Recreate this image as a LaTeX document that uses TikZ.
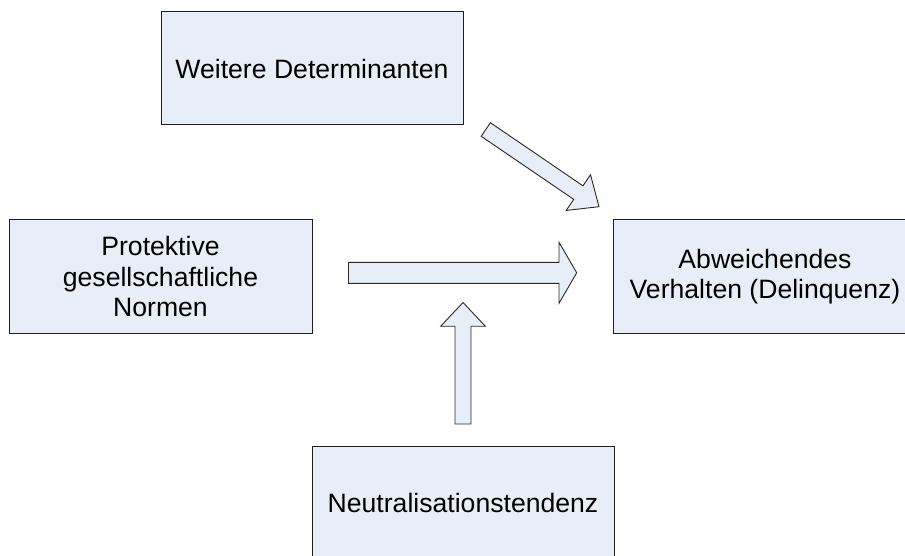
\documentclass[tikz,border=0pt]{standalone}
\usepackage{fontspec}
\setmainfont{Liberation Sans}
\usetikzlibrary{calc}

\definecolor{boxfill}{RGB}{232,238,247}
\definecolor{boxline}{RGB}{30,30,30}
\definecolor{arrowline}{RGB}{40,40,40}

% Block arrow from #1 to #2: shaft half-width #3, head half-width #4, head length #5
\newcommand\blockarrow[5]{%
  \path[blockarr] let \p1=($(#2)-(#1)$), \n2={atan2(\y1,\x1)} in
    ($(#1)+(\n2-90:#3)$)
    -- ($(#2)+(\n2+180:#5)+(\n2-90:#3)$)
    -- ($(#2)+(\n2+180:#5)+(\n2-90:#4)$)
    -- (#2)
    -- ($(#2)+(\n2+180:#5)+(\n2+90:#4)$)
    -- ($(#2)+(\n2+180:#5)+(\n2+90:#3)$)
    -- ($(#1)+(\n2+90:#3)$)
    -- cycle;}

\begin{document}
\begin{tikzpicture}[x=1pt,y=1pt,
  factor/.style={draw=boxline, line width=1pt, fill=boxfill, inner sep=0pt,
    align=center, font=\fontsize{26.6}{30.6}\selectfont},
  blockarr/.style={draw=arrowline, line width=0.9pt, fill=boxfill, line join=miter}]
  \useasboundingbox (0,0) rectangle (905,-556);
  \clip (0,0) rectangle (905,-556);

  % factors
  \node[factor, minimum width=302, minimum height=113] (weitere) at (312,-68.5)
    {Weitere Determinanten};
  \node[factor, minimum width=303, minimum height=113] (normen) at (160.5,-276.5)
    {Protektive\\gesellschaftliche\\Normen};
  \node[factor, minimum width=304, minimum height=113] (delinquenz) at (765,-276.5)
    {Abweichendes\\Verhalten (Delinquenz)};
  \node[factor, minimum width=302, minimum height=114] (neutral) at (463,-503)
    {Neutralisationstendenz};

  % arrow end points
  \coordinate (wStart) at (485.8,-129.5);
  \coordinate (wEnd)   at (599,-206.7);
  \coordinate (nStart) at (348.5,-272.8);
  \coordinate (nEnd)   at (576.7,-272.8);
  \coordinate (tStart) at (463,-424);
  \coordinate (tEnd)   at (463,-302.5);

  % influences
  \blockarrow{wStart}{wEnd}{8.2}{21.6}{25}
  \blockarrow{nStart}{nEnd}{10.5}{30.5}{17.7}
  \blockarrow{tStart}{tEnd}{8}{22.3}{23.7}
\end{tikzpicture}
\end{document}
